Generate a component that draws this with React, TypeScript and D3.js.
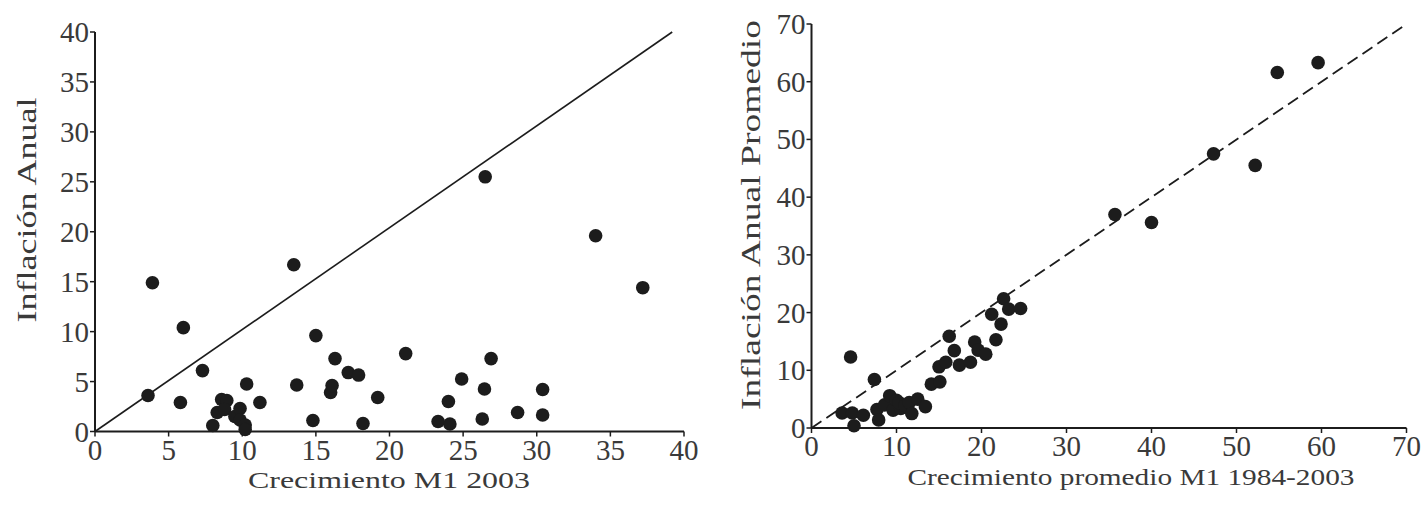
import React from "react";
import * as d3 from "d3";

// ---------- data ----------
const leftGrowth = [3.6, 3.9, 6.0, 5.8, 7.3, 8.0, 8.3, 8.6, 8.95, 8.8, 9.5, 9.85, 9.85, 10.2, 10.2, 10.3, 11.2, 13.5, 13.7, 14.8, 15.0, 16.0, 16.1, 16.3, 17.2, 17.9, 18.2, 19.2, 21.1, 23.3, 24.1, 24.0, 24.9, 26.5, 26.45, 26.3, 26.9, 28.7, 30.4, 30.4, 34.0, 37.2];
const leftInflation = [3.6, 14.9, 10.4, 2.9, 6.1, 0.6, 1.9, 3.2, 3.1, 2.2, 1.5, 2.3, 1.15, 0.65, 0.2, 4.75, 2.9, 16.7, 4.65, 1.1, 9.6, 3.9, 4.6, 7.3, 5.9, 5.65, 0.8, 3.4, 7.8, 1.0, 0.75, 3.0, 5.25, 25.5, 4.25, 1.25, 7.3, 1.9, 4.2, 1.65, 19.6, 14.4];
const leftTicks = [0, 5, 10, 15, 20, 25, 30, 35, 40];
const leftLineX = [0, 39.2];
const leftLineY = [0, 40];

const rightGrowth = [3.6, 4.8, 6.1, 5.0, 4.6, 7.4, 7.7, 7.9, 8.6, 9.2, 9.6, 10.0, 10.5, 10.3, 11.0, 11.5, 11.8, 12.5, 13.4, 14.1, 15.1, 15.0, 15.8, 16.2, 16.8, 17.4, 18.7, 19.2, 19.6, 20.5, 21.2, 21.7, 22.3, 22.6, 23.2, 24.6, 35.7, 40.0, 47.3, 52.2, 54.8, 59.6];
const rightInflation = [2.6, 2.6, 2.2, 0.4, 12.3, 8.4, 3.2, 1.4, 4.0, 5.6, 3.1, 4.8, 3.4, 4.4, 3.9, 4.4, 2.5, 5.0, 3.7, 7.6, 8.0, 10.6, 11.4, 15.9, 13.4, 10.9, 11.4, 14.9, 13.5, 12.8, 19.7, 15.3, 18.0, 22.4, 20.6, 20.7, 37.0, 35.6, 47.5, 45.5, 61.6, 63.3];
const rightTicks = [0, 10, 20, 30, 40, 50, 60, 70];
const rightLineX = [0, 70];
const rightLineY = [0, 70];

const FONT = "'Liberation Serif', 'DejaVu Serif', serif";
const TEXT = "#3a3a3a";
const INK = "#1c1c1c";

type PanelProps = {
  xs: number[];
  ys: number[];
  max: number;
  ticks: number[];
  x0: number;
  x1: number;
  y0: number;
  y1: number;
  lineX: number[];
  lineY: number[];
  dashed: boolean;
  xTitle: string;
  yTitle: string;
  xTitleX: number;
  xTitleY: number;
  xTitleLen: number;
  yTitleX: number;
  yTitleY: number;
  yTitleLen: number;
};

function Panel(p: PanelProps) {
  const x = d3.scaleLinear().domain([0, p.max]).range([p.x0, p.x1]);
  const y = d3.scaleLinear().domain([0, p.max]).range([p.y0, p.y1]);
  const line = d3
    .line<number>()
    .x((_, i) => x(p.lineX[i]))
    .y((_, i) => y(p.lineY[i]));
  return (
    <g>
      <path
        d={line(p.lineX) || ""}
        stroke={INK}
        strokeWidth={p.dashed ? 1.8 : 1.6}
        strokeDasharray={p.dashed ? "12,6" : undefined}
        fill="none"
      />
      {/* axes */}
      <line x1={p.x0} x2={p.x1} y1={p.y0} y2={p.y0} stroke={INK} strokeWidth={2} />
      <line x1={p.x0} x2={p.x0} y1={p.y0} y2={p.y1} stroke={INK} strokeWidth={2} />
      {p.ticks.map((t) => (
        <g key={"x" + t}>
          <line x1={x(t)} x2={x(t)} y1={p.y0} y2={p.y0 + 5} stroke={INK} strokeWidth={1.5} />
          <text
            x={x(t)}
            y={p.y0 + 28}
            textAnchor="middle"
            fontFamily={FONT}
            fontSize={29}
            fill={TEXT}
          >
            {t}
          </text>
        </g>
      ))}
      {p.ticks.map((t) => (
        <g key={"y" + t}>
          <line x1={p.x0 - 5} x2={p.x0} y1={y(t)} y2={y(t)} stroke={INK} strokeWidth={1.5} />
          <text
            x={p.x0 - 6}
            y={y(t) + 10}
            textAnchor="end"
            fontFamily={FONT}
            fontSize={29}
            fill={TEXT}
          >
            {t}
          </text>
        </g>
      ))}
      {p.xs.map((v, i) => (
        <circle key={i} cx={x(v)} cy={y(p.ys[i])} r={6.8} fill={INK} />
      ))}
      <text
        x={p.xTitleX}
        y={p.xTitleY}
        textAnchor="middle"
        fontFamily={FONT}
        fontSize={24}
        fill={TEXT}
        textLength={p.xTitleLen}
        lengthAdjust="spacingAndGlyphs"
      >
        {p.xTitle}
      </text>
      <text
        transform={`translate(${p.yTitleX},${p.yTitleY}) rotate(-90)`}
        textAnchor="middle"
        fontFamily={FONT}
        fontSize={28}
        fill={TEXT}
        textLength={p.yTitleLen}
        lengthAdjust="spacingAndGlyphs"
      >
        {p.yTitle}
      </text>
    </g>
  );
}

export default function App() {
  return (
    <svg
      width={1427}
      height={507}
      style={{ position: "absolute", left: 0, top: 0, background: "#fff" }}
    >
      <rect width={1427} height={507} fill="#fff" />
      <Panel
        xs={leftGrowth}
        ys={leftInflation}
        max={40}
        ticks={leftTicks}
        x0={95}
        x1={684}
        y0={431.5}
        y1={32}
        lineX={leftLineX}
        lineY={leftLineY}
        dashed={false}
        xTitle="Crecimiento M1 2003"
        yTitle="Inflación Anual"
        xTitleX={389}
        xTitleY={488}
        xTitleLen={282}
        yTitleX={36}
        yTitleY={210}
        yTitleLen={225}
      />
      <Panel
        xs={rightGrowth}
        ys={rightInflation}
        max={70}
        ticks={rightTicks}
        x0={811.5}
        x1={1406.5}
        y0={428}
        y1={24}
        lineX={rightLineX}
        lineY={rightLineY}
        dashed={true}
        xTitle="Crecimiento  promedio M1 1984-2003"
        yTitle="Inflación Anual Promedio"
        xTitleX={1131}
        xTitleY={485}
        xTitleLen={447}
        yTitleX={760}
        yTitleY={215}
        yTitleLen={390}
      />
    </svg>
  );
}
